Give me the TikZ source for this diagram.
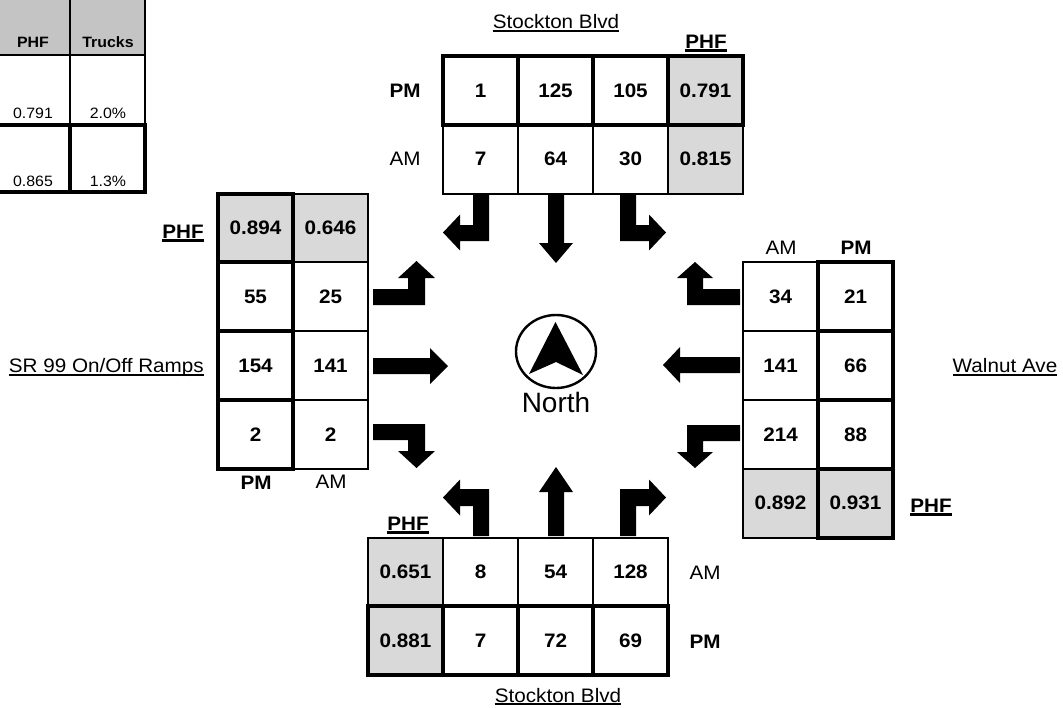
\documentclass[tikz,border=0pt]{standalone}
\usepackage{fontspec}
\setmainfont{Liberation Sans}[FakeStretch=1.06]
\newfontfamily\northfont{Liberation Sans}
\definecolor{phfgray}{RGB}{217,217,217}
\definecolor{hdrgray}{RGB}{196,196,196}
\newcommand{\valfont}{\fontsize{19.5}{22}\selectfont\bfseries}
\newcommand{\labfont}{\fontsize{19.5}{22}\selectfont}
\newcommand{\smallfont}{\fontsize{15}{17}\selectfont}
\begin{document}
\begin{tikzpicture}[x=1pt,y=-1pt,
  cell/.style={rectangle,minimum width=75pt,minimum height=68.8pt,inner sep=0pt,outer sep=0pt,font=\valfont,fill=white,draw=black},
  thincell/.style={cell,line width=2pt},
  thickcell/.style={cell,line width=4pt},
  phfcell/.style={fill=phfgray},
  lab/.style={inner sep=0pt,font=\labfont},
  blab/.style={inner sep=0pt,font=\valfont},
  slab/.style={inner sep=0pt,font=\smallfont},
  sblab/.style={inner sep=0pt,font=\smallfont\bfseries},
  ul/.style={line width=1.5pt},
  bul/.style={line width=2.5pt},
  arr/.style={fill=black,draw=none}]
\useasboundingbox (0,0) rectangle (1063,707);

% ---------- small legend table (top left) ----------
\fill[hdrgray] (-5,-5) rectangle (145,55);
\draw[line width=2pt] (70,-5) -- (70,125) (145,-5) -- (145,125) (-5,55) -- (145,55);
\draw[line width=4pt] (-5,125) rectangle (145,192) (70,125) -- (70,192);
\node[sblab,anchor=base] (hphf) at (33,47) {PHF};
\node[sblab,anchor=base] (htrk) at (108,47) {Trucks};
\node[slab,anchor=base] (lp1) at (33,118) {0.791};
\node[slab,anchor=base] (lt1) at (108,118) {2.0\%};
\node[slab,anchor=base] (lp2) at (33,186) {0.865};
\node[slab,anchor=base] (lt2) at (108,186) {1.3\%};

% ---------- thin cells ----------
% north approach AM row
\node[thincell] (nA1) at (480.5,159.2) {7};
\node[thincell] (nA2) at (555.5,159.2) {64};
\node[thincell] (nA3) at (630.5,159.2) {30};
\node[thincell,phfcell] (nA4) at (705.5,159.2) {0.815};
% west approach AM column
\node[thincell,phfcell] (wA0) at (330.5,228) {0.646};
\node[thincell] (wA1) at (330.5,296.8) {25};
\node[thincell] (wA2) at (330.5,365.6) {141};
\node[thincell] (wA3) at (330.5,434.4) {2};
% east approach AM column
\node[thincell] (eA1) at (780.5,296.8) {34};
\node[thincell] (eA2) at (780.5,365.6) {141};
\node[thincell] (eA3) at (780.5,434.4) {214};
\node[thincell,phfcell] (eA4) at (780.5,503.2) {0.892};
% south approach AM row
\node[thincell,phfcell] (sA0) at (405.5,572) {0.651};
\node[thincell] (sA1) at (480.5,572) {8};
\node[thincell] (sA2) at (555.5,572) {54};
\node[thincell] (sA3) at (630.5,572) {128};

% ---------- thick cells ----------
\node[thickcell] (nP1) at (480.5,90.4) {1};
\node[thickcell] (nP2) at (555.5,90.4) {125};
\node[thickcell] (nP3) at (630.5,90.4) {105};
\node[thickcell,phfcell] (nP4) at (705.5,90.4) {0.791};
\node[thickcell,phfcell] (wP0) at (255.5,228) {0.894};
\node[thickcell] (wP1) at (255.5,296.8) {55};
\node[thickcell] (wP2) at (255.5,365.6) {154};
\node[thickcell] (wP3) at (255.5,434.4) {2};
\node[thickcell] (eP1) at (855.5,296.8) {21};
\node[thickcell] (eP2) at (855.5,365.6) {66};
\node[thickcell] (eP3) at (855.5,434.4) {88};
\node[thickcell,phfcell] (eP4) at (855.5,503.2) {0.931};
\node[thickcell,phfcell] (sP0) at (405.5,640.8) {0.881};
\node[thickcell] (sP1) at (480.5,640.8) {7};
\node[thickcell] (sP2) at (555.5,640.8) {72};
\node[thickcell] (sP3) at (630.5,640.8) {69};

% ---------- labels ----------
\node[blab] (nPM) at (405,90.4) {PM};
\node[lab] (nAM) at (405,159.2) {AM};
\node[lab,anchor=base] (nname) at (556,28.5) {Stockton Blvd};
\draw[ul] ([yshift=-2.5pt]nname.base west) -- ([yshift=-2.5pt]nname.base east);
\node[blab,anchor=base] (nphf) at (706,48) {PHF};
\draw[bul] ([yshift=-2.3pt]nphf.base west) -- ([yshift=-2.3pt]nphf.base east);

\node[blab,anchor=base] (wphf) at (183,238) {PHF};
\draw[bul] ([yshift=-2.5pt]wphf.base west) -- ([yshift=-2.5pt]wphf.base east);
\node[lab,anchor=base east] (wname) at (204,372.5) {SR 99 On/Off Ramps};
\draw[ul] ([yshift=-2.5pt]wname.base west) -- ([yshift=-2.5pt]wname.base east);
\node[blab] (wPM) at (256,483) {PM};
\node[lab] (wAM) at (331,482) {AM};

\node[lab] (eAM) at (781,248) {AM};
\node[blab] (ePM) at (856,248) {PM};
\node[blab,anchor=base] (ephf) at (931,512) {PHF};
\draw[bul] ([yshift=-2.5pt]ephf.base west) -- ([yshift=-2.5pt]ephf.base east);
\node[lab,anchor=base] (ename) at (1005,372.5) {Walnut Ave};
\draw[ul] ([yshift=-2.5pt]ename.base west) -- ([yshift=-2.5pt]ename.base east);

\node[blab,anchor=base] (sphf) at (408,530) {PHF};
\draw[bul] ([yshift=-2.5pt]sphf.base west) -- ([yshift=-2.5pt]sphf.base east);
\node[lab] (sAM) at (705,573) {AM};
\node[blab] (sPM) at (705,642) {PM};
\node[lab,anchor=base] (sname) at (558,702) {Stockton Blvd};
\draw[ul] ([yshift=-2pt]sname.base west) -- ([yshift=-2pt]sname.base east);

% ---------- movement arrows ----------
% southbound (from north)
\fill[arr] (473,195) -- (489,195) -- (489,241) -- (460,241) -- (460,250.5) -- (443,232.5) -- (460,214.5) -- (460,225) -- (473,225) -- cycle;
\fill[arr] (548,195) -- (564,195) -- (564,243) -- (573,243) -- (556,263) -- (539,243) -- (548,243) -- cycle;
\fill[arr] (636,195) -- (620,195) -- (620,241) -- (649,241) -- (649,250.5) -- (666,232.5) -- (649,214.5) -- (649,225) -- (636,225) -- cycle;
% northbound (from south)
\fill[arr] (473,536) -- (489,536) -- (489,489) -- (460,489) -- (460,479.5) -- (443,497.5) -- (460,515.5) -- (460,506) -- (473,506) -- cycle;
\fill[arr] (548,536) -- (564,536) -- (564,492) -- (573,492) -- (556,467) -- (539,492) -- (548,492) -- cycle;
\fill[arr] (636,536) -- (620,536) -- (620,489) -- (649,489) -- (649,479.5) -- (666,497.5) -- (649,515.5) -- (649,506) -- (636,506) -- cycle;
% eastbound (from west)
\fill[arr] (373,289) -- (408,289) -- (408,278) -- (398,278) -- (416.5,261) -- (435,278) -- (425,278) -- (425,305) -- (373,305) -- cycle;
\fill[arr] (373,358) -- (430,358) -- (430,348) -- (448,366) -- (430,384) -- (430,374) -- (373,374) -- cycle;
\fill[arr] (373,424) -- (425,424) -- (425,451) -- (435,451) -- (416.5,468) -- (398,451) -- (408,451) -- (408,440) -- (373,440) -- cycle;
% westbound (from east)
\fill[arr] (740,289) -- (703,289) -- (703,278) -- (713,278) -- (695,262) -- (677,278) -- (687,278) -- (687,305) -- (740,305) -- cycle;
\fill[arr] (740,357) -- (680,357) -- (680,347) -- (663,365) -- (680,383) -- (680,373) -- (740,373) -- cycle;
\fill[arr] (740,425) -- (687,425) -- (687,452) -- (677,452) -- (695,468) -- (713,452) -- (703,452) -- (703,441) -- (740,441) -- cycle;

% ---------- north symbol ----------
\draw[line width=2.4pt] (556,351.5) ellipse [x radius=40pt, y radius=36.5pt];
\fill[black] (555.5,322) -- (583,375) -- (556,362) -- (529,374) -- cycle;
\node[inner sep=0pt,font=\northfont\fontsize{28}{32}\selectfont,anchor=base] (north) at (556,412) {North};
\end{tikzpicture}
\end{document}
